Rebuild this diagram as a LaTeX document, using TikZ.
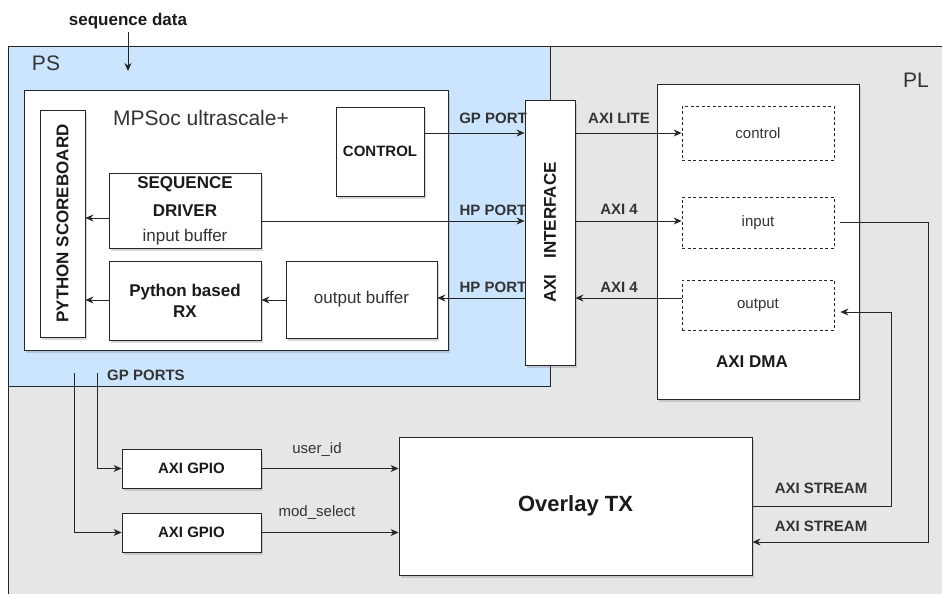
\documentclass[tikz,border=0pt]{standalone}
\usepackage{fontspec}
\setmainfont{Liberation Sans}
\usetikzlibrary{arrows.meta,shadows}
\definecolor{psfill}{HTML}{CCE5FF}
\definecolor{plfill}{HTML}{E6E6E6}
\definecolor{linecol}{HTML}{262626}
\definecolor{textmain}{HTML}{1A1A1A}
\definecolor{textmuted}{HTML}{333333}

\begin{document}
\begin{tikzpicture}[x=1pt,y=-1pt,
    block/.style={draw=linecol,fill=white,line width=0.9pt,inner sep=0pt,
      drop shadow={shadow xshift=2pt,shadow yshift=-2.5pt,opacity=0.3}},
    port/.style={draw=linecol,fill=white,line width=0.8pt,dash pattern=on 3pt off 2.5pt,inner sep=0pt},
    lbl/.style={font=\fontsize{15}{18}\selectfont\bfseries,text=textmuted},
    txt/.style={font=\fontsize{15}{18}\selectfont,text=textmuted},
    bigtxt/.style={font=\fontsize{17}{20}\selectfont,text=textmain,align=center},
    arr/.style={-{Stealth[length=8pt,width=7pt]},line width=0.9pt,draw=linecol}
  ]
  \useasboundingbox (0,0) rectangle (942,594);
  \fill[white] (0,0) rectangle (942,594);
  \draw[draw=linecol,fill=plfill,line width=0.9pt] (8,46) rectangle (960,610);
  \draw[draw=linecol,fill=psfill,line width=0.9pt] (8,46) rectangle (550,386);

  \node[font=\fontsize{21}{24}\selectfont,text=textmuted] (pslbl) at (46,63) {PS};
  \node[font=\fontsize{21}{24}\selectfont,text=textmuted] (pllbl) at (916,80) {PL};
  \node[font=\fontsize{17}{20}\selectfont\bfseries,text=textmain] (seqdata) at (128,21) {sequence data};
  \coordinate (seqin) at (128,71);

  \node[block,minimum width=424pt,minimum height=260pt] (mpsoc) at (236,220) {};
  \node[font=\fontsize{21}{24}\selectfont,text=textmuted] (mpsoclbl) at (201,118) {MPSoc ultrascale+};
  \node[block,minimum width=45pt,minimum height=227pt] (score) at (62.5,223.5) {};
  \node[bigtxt,font=\fontsize{17}{20}\selectfont\bfseries,rotate=90] (scorelbl) at (score) {PYTHON SCOREBOARD};
  \node[block,lbl,text=textmain,minimum width=88pt,minimum height=89pt] (ctrl) at (380,151.5) {CONTROL};
  \node[block,bigtxt,minimum width=152pt,minimum height=75pt] (seqdrv) at (185,210.5)
    {\bfseries SEQUENCE\\[8pt]\bfseries DRIVER\\[5pt]\color{textmuted}input buffer};
  \node[block,bigtxt,font=\fontsize{17}{21}\selectfont\bfseries,minimum width=152pt,minimum height=79pt] (pyrx) at (185,300.5) {Python based\\RX};
  \node[block,bigtxt,text=textmuted,minimum width=151pt,minimum height=77pt] (outbuf) at (361.5,299.5) {output buffer};

  \node[block,minimum width=50pt,minimum height=265pt] (axi) at (550,232.5) {};
  \node[bigtxt,font=\fontsize{17}{20}\selectfont\bfseries,rotate=90] (axilbl) at (axi) {AXI\hspace{16pt}INTERFACE};

  \node[block,minimum width=202pt,minimum height=315pt] (dma) at (758,241.5) {};
  \node[bigtxt,font=\fontsize{17}{20}\selectfont\bfseries] (dmalbl) at (752,362) {AXI DMA};
  \node[port,txt,minimum width=152pt,minimum height=54pt] (dctrl) at (758,133) {control};
  \node[port,txt,minimum width=152pt,minimum height=51pt] (dinput) at (758,222.5) {input};
  \node[port,txt,minimum width=152pt,minimum height=50pt] (doutput) at (758,305) {output};

  \node[block,lbl,text=textmain,minimum width=139pt,minimum height=39pt] (gpio1) at (191.5,468.5) {AXI GPIO};
  \node[block,lbl,text=textmain,minimum width=139pt,minimum height=39pt] (gpio2) at (191.5,532.5) {AXI GPIO};
  \node[block,font=\fontsize{22}{26}\selectfont\bfseries,text=textmain,minimum width=353pt,minimum height=138pt] (overlay) at (575.5,506) {Overlay TX};

  \coordinate (yctl) at (0,133);
  \coordinate (yin) at (0,221);
  \coordinate (yout) at (0,298);
  \coordinate (yseq) at (0,218);
  \coordinate (yrx) at (0,300);
  \coordinate (ys1) at (0,506);
  \coordinate (ys2) at (0,542);
  \coordinate (ydo) at (0,312);
  \coordinate (gp1) at (97,373);
  \coordinate (gp2) at (74,373);

  \draw[arr] (seqdata.south) -- (seqin);
  \draw[arr] (ctrl.east |- yctl) -- (axi.west |- yctl);
  \draw[arr] (axi.east |- yctl) -- (dctrl.west |- yctl);
  \draw[arr] (seqdrv.east |- yin) -- (axi.west |- yin);
  \draw[arr] (axi.east |- yin) -- (dinput.west |- yin);
  \draw[arr] (doutput.west |- yout) -- (axi.east |- yout);
  \draw[arr] (axi.west |- yout) -- (outbuf.east |- yout);
  \draw[arr] (outbuf.west |- yrx) -- (pyrx.east |- yrx);
  \draw[arr] (pyrx.west |- yrx) -- (score.east |- yrx);
  \draw[arr] (seqdrv.west |- yseq) -- (score.east |- yseq);
  \draw[arr,shorten <=6pt] (dinput.east) -- ++(94,0) |- (overlay.east |- ys2);
  \draw[arr,shorten >=6pt] (overlay.east |- ys1) -- ++(139,0) |- (doutput.east |- ydo);
  \draw[arr] (gp1) |- (gpio1.west);
  \draw[arr] (gp2) |- (gpio2.west);
  \draw[arr] (gpio1.east) -- (gpio1.east -| overlay.west);
  \draw[arr] (gpio2.east) -- (gpio2.east -| overlay.west);

  \node[lbl] (gpport) at (493,118) {GP PORT};
  \node[lbl] (hpin) at (493,210) {HP PORT};
  \node[lbl] (hpout) at (493,287) {HP PORT};
  \node[lbl] (axilite) at (619,118) {AXI LITE};
  \node[lbl] (axiin) at (619,209) {AXI 4};
  \node[lbl] (axiout) at (619,287) {AXI 4};
  \node[lbl] (stream1) at (821,488) {AXI STREAM};
  \node[lbl] (stream2) at (821,526) {AXI STREAM};
  \node[txt] (userid) at (317,450) {user\_id};
  \node[txt] (modsel) at (317,513) {mod\_select};
  \node[lbl] (gpports) at (146,375) {GP PORTS};
\end{tikzpicture}
\end{document}
